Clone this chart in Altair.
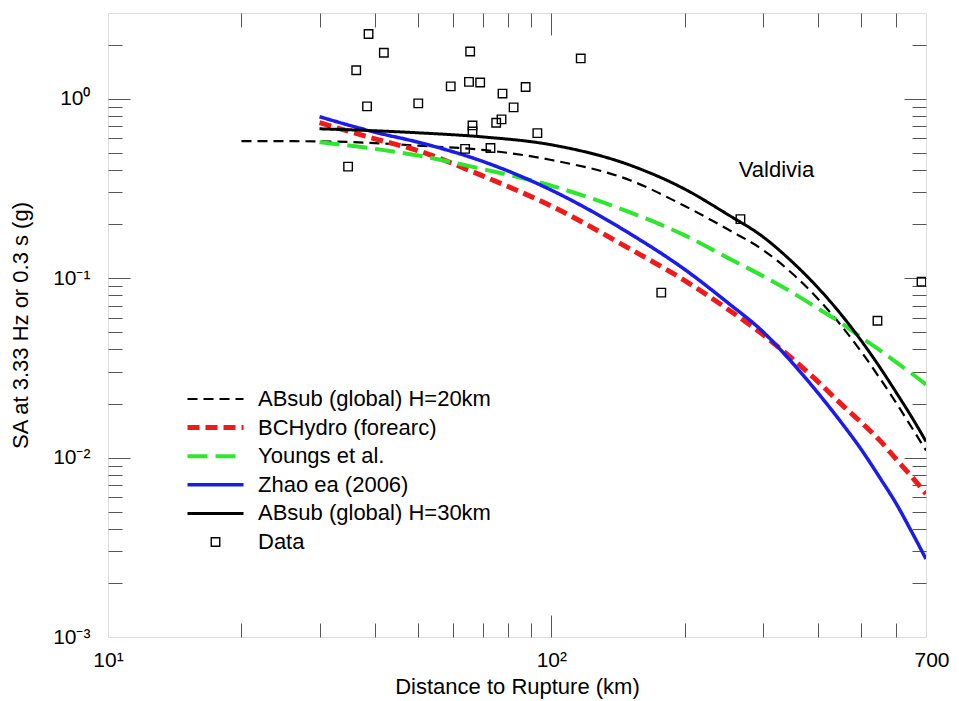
import altair as alt
import pandas as pd

# ---------------- data ----------------
series_names = ["ABsub (global) H=20km", "BCHydro (forearc)", "Youngs et al.",
                "Zhao ea (2006)", "ABsub (global) H=30km", "Data"]

ab20_dist = [20, 30, 40, 50, 70, 100, 150, 200, 250, 300, 350, 400, 450,
             500, 550, 600, 650, 700]
ab20_sa = [0.580, 0.578, 0.565, 0.547, 0.518, 0.455, 0.352, 0.252, 0.187,
           0.1436, 0.1057, 0.0763, 0.0546, 0.0389, 0.0278, 0.0201, 0.0147, 0.01096]

model_dist = [30, 40, 50, 70, 100, 150, 200, 250, 300, 350, 400, 450, 500,
              550, 600, 650, 700]
bchydro_sa = [0.734, 0.597, 0.513, 0.371, 0.252, 0.146, 0.0968, 0.0671, 0.0484,
              0.0354, 0.0264, 0.0199, 0.0157, 0.0125, 0.00977, 0.00782, 0.00628]
youngs_sa = [0.572, 0.525, 0.482, 0.405, 0.327, 0.233, 0.173, 0.1296, 0.1027,
             0.0829, 0.0675, 0.0563, 0.0467, 0.0397, 0.0339, 0.0294, 0.0255]
zhao_sa = [0.793, 0.650, 0.572, 0.447, 0.309, 0.1775, 0.1116, 0.0729, 0.0503,
           0.0336, 0.0228, 0.01578, 0.01109, 0.00776, 0.00552, 0.00385, 0.00272]
ab30_sa = [0.679, 0.662, 0.645, 0.612, 0.553, 0.427, 0.313, 0.226, 0.170,
           0.1226, 0.0880, 0.0629, 0.0448, 0.0320, 0.0230, 0.0168, 0.0123]

data_dist = [38.7, 41.9, 36.3, 38.4, 50.1, 59.3, 65.6, 65.2, 69.1, 77.6, 87.5,
             82.2, 66.4, 66.4, 75.1, 77.2, 93.0, 116.5, 63.9, 72.9, 34.8,
             267, 177, 544, 684]
data_sa = [2.29, 1.80, 1.44, 0.905, 0.941, 1.17, 1.83, 1.24, 1.23, 1.067, 1.16,
           0.894, 0.709, 0.656, 0.734, 0.766, 0.642, 1.675, 0.525, 0.531, 0.418,
           0.213, 0.083, 0.0578, 0.0956]

note_dist = [322]
note_sa = [0.40]
note_text = ["Valdivia"]

x_label_values = [10, 100, 700]
y_label_values = [0.001, 0.01, 0.1, 1]
x_tick_values = [20, 30, 40, 50, 60, 70, 80, 90, 100, 200, 300, 400, 500, 600]
y_tick_values = [0.002, 0.003, 0.004, 0.005, 0.006, 0.007, 0.008, 0.009, 0.01,
                 0.02, 0.03, 0.04, 0.05, 0.06, 0.07, 0.08, 0.09, 0.1,
                 0.2, 0.3, 0.4, 0.5, 0.6, 0.7, 0.8, 0.9, 1, 2]

# ---------------- tables ----------------
rows = []
for d, v in zip(ab20_dist, ab20_sa):
    rows.append({"series": series_names[0], "dist": d, "sa": v})
for name, vals in [(series_names[1], bchydro_sa), (series_names[2], youngs_sa),
                   (series_names[3], zhao_sa), (series_names[4], ab30_sa)]:
    for d, v in zip(model_dist, vals):
        rows.append({"series": name, "dist": d, "sa": v})
lines_df = pd.DataFrame(rows)

points_df = pd.DataFrame({"series": "Data", "dist": data_dist, "sa": data_sa})
note_df = pd.DataFrame({"dist": note_dist, "sa": note_sa, "label": note_text})

# ---------------- scales ----------------
W, H = 818, 624
xscale = alt.Scale(type="log", domain=[10, 700], nice=False)
yscale = alt.Scale(type="log", domain=[0.001, 3], nice=False)

color_scale = alt.Scale(domain=series_names,
                        range=["#000000", "#f01a1a", "#2ee62e", "#1c1ce8", "#000000", "#000000"])
dash_scale = alt.Scale(domain=series_names,
                       range=[[10, 6], [12, 6], [20, 8], [1, 0], [1, 0], [1, 0]])
sw_scale = alt.Scale(type="ordinal", domain=series_names,
                     range=[2.2, 5, 4, 3.5, 3, 1.4])
shape_scale = alt.Scale(domain=series_names,
                        range=["stroke", "stroke", "stroke", "stroke", "stroke", "square"])
size_scale = alt.Scale(type="ordinal", domain=series_names,
                       range=[3136, 3136, 3136, 3136, 3136, 72])

FONT = "Liberation Sans"
TICK_COLOR = "#555555"

legend = alt.Legend(
    orient="none", legendX=77, legendY=373, title=None,
    labelFontSize=22, labelFont=FONT, labelColor="black",
    labelLimit=400, labelOffset=12, clipHeight=26, rowPadding=2.6,
    padding=0, direction="vertical",
)

x_main_axis = alt.Axis(
    orient="bottom", values=x_label_values,
    labelExpr="datum.value == 10 ? '10¹' : datum.value == 100 ? '10²' : '700'",
    ticks=False, tickSize=0, domain=False, grid=False, labelFlush=False,
    labelOverlap=False, labelFontSize=21, labelFont=FONT, labelColor="black",
    labelPadding=12,
    labelAlign={"condition": {"test": "datum.value === 700", "value": "left"}, "value": "center"},
    labelOffset={"condition": {"test": "datum.value === 700", "value": -12}, "value": 0},
    title="Distance to Rupture (km)", titleFontSize=22, titleFont=FONT,
    titleFontWeight="normal", titleColor="black", titlePadding=6)

y_main_axis = alt.Axis(
    orient="left", values=y_label_values,
    labelExpr="datum.value == 1 ? '10⁰' : datum.value == 0.1 ? '10⁻¹' : datum.value == 0.01 ? '10⁻²' : '10⁻³'",
    ticks=False, tickSize=0, domain=False, grid=False, labelOverlap=False,
    labelFontSize=21, labelFont=FONT, labelColor="black", labelPadding=18,
    title="SA at 3.33 Hz or 0.3 s (g)", titleFontSize=22, titleFont=FONT,
    titleFontWeight="normal", titleColor="black", titlePadding=20)

X_MAJOR = "datum.value === 100"
Y_MAJOR = "datum.value === 0.01 || datum.value === 0.1 || datum.value === 1"


def tick_axis(orient, offset, values, major):
    return alt.Axis(orient=orient, offset=offset, values=values, labels=False,
                    domain=False, grid=False, title=None, ticks=True,
                    tickColor=TICK_COLOR, tickWidth=1, labelOverlap=False,
                    tickSize={"condition": {"test": major, "value": 22}, "value": 14})


lines = alt.Chart(lines_df).mark_line(clip=True, interpolate="monotone").encode(
    x=alt.X("dist:Q", scale=xscale, axis=x_main_axis),
    y=alt.Y("sa:Q", scale=yscale, axis=y_main_axis),
    color=alt.Color("series:N", scale=color_scale, legend=legend),
    strokeDash=alt.StrokeDash("series:N", scale=dash_scale, legend=legend),
    strokeWidth=alt.StrokeWidth("series:N", scale=sw_scale, legend=legend),
)

points = alt.Chart(points_df).mark_point(filled=False, clip=True, opacity=1).encode(
    x=alt.X("dist:Q", scale=xscale, axis=tick_axis("top", -H, x_tick_values, X_MAJOR)),
    y=alt.Y("sa:Q", scale=yscale, axis=tick_axis("right", -W, y_tick_values, Y_MAJOR)),
    color=alt.Color("series:N", scale=color_scale, legend=legend),
    shape=alt.Shape("series:N", scale=shape_scale, legend=legend),
    size=alt.Size("series:N", scale=size_scale, legend=legend),
    strokeDash=alt.StrokeDash("series:N", scale=dash_scale, legend=legend),
    strokeWidth=alt.StrokeWidth("series:N", scale=sw_scale, legend=legend),
)

note = alt.Chart(note_df).mark_text(fontSize=22, font=FONT, color="black",
                                    align="center", baseline="middle").encode(
    x=alt.X("dist:Q", scale=xscale, axis=tick_axis("bottom", -H, x_tick_values, X_MAJOR)),
    y=alt.Y("sa:Q", scale=yscale, axis=tick_axis("left", -W, y_tick_values, Y_MAJOR)),
    text="label:N",
)

chart = alt.layer(lines, points, note).resolve_axis(
    x="independent", y="independent"
).properties(
    width=W, height=H,
    autosize=alt.AutoSizeParams(type="none"),
    padding={"left": 100, "top": 5, "right": 25, "bottom": 64},
).configure_view(
    stroke="#555555", strokeWidth=1
).configure(font=FONT, background="white")

chart.save("out.html", embed_options={"renderer": "svg", "actions": False})
